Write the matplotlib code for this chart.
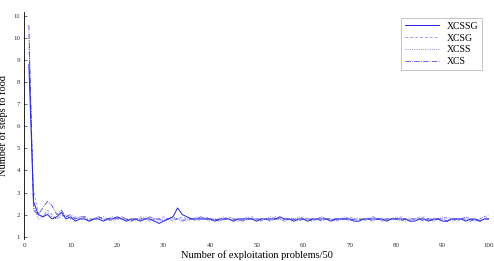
import matplotlib
matplotlib.use("Agg")
import matplotlib.pyplot as plt
import numpy as np

x_problems = list(range(1, 101))
xcssg = [8.8, 2.6, 2.0, 1.9, 2.0, 1.8, 1.9, 2.1, 1.8, 1.9,
         1.7, 1.8, 1.8, 1.7, 1.8, 1.8, 1.7, 1.8, 1.8, 1.9,
         1.8, 1.7, 1.8, 1.8, 1.7, 1.8, 1.8, 1.7, 1.6, 1.7,
         1.8, 1.9, 2.3, 2.0, 1.9, 1.8, 1.8, 1.8, 1.8, 1.8,
         1.7, 1.8, 1.8, 1.8, 1.7, 1.8, 1.8, 1.8, 1.8, 1.7,
         1.8, 1.8, 1.8, 1.8, 1.9, 1.8, 1.8, 1.7, 1.8, 1.8,
         1.7, 1.8, 1.8, 1.8, 1.8, 1.7, 1.8, 1.8, 1.8, 1.8,
         1.7, 1.7, 1.8, 1.8, 1.8, 1.8, 1.8, 1.7, 1.8, 1.8,
         1.8, 1.8, 1.7, 1.7, 1.8, 1.8, 1.7, 1.8, 1.8, 1.7,
         1.7, 1.8, 1.8, 1.8, 1.7, 1.8, 1.8, 1.7, 1.8, 1.8]
xcsg = [9.6, 3.1, 2.1, 1.9, 2.2, 2.0, 1.8, 1.9, 2.0, 1.8,
        1.9, 1.8, 1.9, 1.7, 1.8, 1.9, 1.8, 1.7, 1.8, 1.8,
        1.9, 1.8, 1.7, 1.8, 1.9, 1.8, 1.7, 1.8, 1.8, 1.9,
        1.8, 1.7, 1.8, 1.9, 1.8, 1.8, 1.7, 1.8, 1.9, 1.8,
        1.8, 1.7, 1.8, 1.9, 1.8, 1.7, 1.8, 1.8, 1.9, 1.8,
        1.7, 1.8, 1.8, 1.9, 1.8, 1.7, 1.8, 1.8, 1.8, 1.9,
        1.8, 1.7, 1.8, 1.9, 1.8, 1.8, 1.7, 1.8, 1.8, 1.9,
        1.8, 1.8, 1.7, 1.8, 1.9, 1.8, 1.7, 1.8, 1.8, 1.8,
        1.9, 1.8, 1.7, 1.8, 1.8, 1.9, 1.8, 1.7, 1.8, 1.8,
        1.9, 1.8, 1.7, 1.8, 1.9, 1.8, 1.7, 1.8, 1.9, 2.0]
xcss = [10.2, 2.4, 1.8, 1.9, 2.1, 1.9, 1.8, 2.0, 1.9, 1.8,
        1.8, 1.9, 1.8, 1.7, 1.8, 1.8, 1.9, 1.8, 1.7, 1.8,
        1.9, 1.8, 1.8, 1.7, 1.8, 1.9, 1.8, 1.8, 1.7, 1.8,
        1.8, 1.9, 1.8, 1.8, 1.7, 1.8, 1.9, 1.8, 1.8, 1.7,
        1.8, 1.8, 1.9, 1.8, 1.7, 1.8, 1.8, 1.9, 1.8, 1.8,
        1.7, 1.8, 1.9, 1.8, 1.8, 1.7, 1.8, 1.8, 1.9, 1.8,
        1.8, 1.7, 1.8, 1.9, 1.8, 1.8, 1.7, 1.8, 1.9, 1.8,
        1.8, 1.7, 1.8, 1.8, 1.9, 1.8, 1.7, 1.8, 1.8, 1.9,
        1.8, 1.7, 1.8, 1.8, 1.9, 1.8, 1.8, 1.7, 1.8, 1.9,
        1.8, 1.7, 1.8, 1.8, 1.9, 1.8, 1.7, 1.8, 1.9, 1.8]
xcs = [10.6, 2.2, 2.0, 2.3, 2.6, 2.4, 2.0, 2.2, 1.9, 2.0,
       1.8, 1.9, 1.9, 1.8, 1.8, 1.9, 1.8, 1.8, 1.9, 1.8,
       1.8, 1.8, 1.7, 1.8, 1.8, 1.8, 1.9, 1.8, 1.8, 1.7,
       1.8, 1.8, 1.8, 1.7, 1.8, 1.8, 1.8, 1.9, 1.8, 1.8,
       1.8, 1.7, 1.8, 1.8, 1.8, 1.8, 1.7, 1.8, 1.8, 1.8,
       1.8, 1.8, 1.7, 1.8, 1.8, 1.8, 1.8, 1.8, 1.7, 1.8,
       1.8, 1.8, 1.8, 1.7, 1.8, 1.8, 1.8, 1.8, 1.8, 1.7,
       1.8, 1.8, 1.8, 1.8, 1.7, 1.8, 1.8, 1.8, 1.8, 1.8,
       1.7, 1.8, 1.8, 1.8, 1.8, 1.7, 1.8, 1.8, 1.8, 1.8,
       1.7, 1.8, 1.8, 1.8, 1.8, 1.7, 1.8, 1.7, 1.8, 1.8]
series_names = ["XCSSG", "XCSG", "XCSS", "XCS"]
x_ticks = list(range(0, 101, 10))
y_ticks = list(range(1, 12))

plt.rcParams['font.family'] = ['Liberation Serif', 'DejaVu Serif']
fig = plt.figure(figsize=(4.94, 2.61), dpi=100)
ax = fig.add_axes([0.049, 0.085, 0.941, 0.87])

blue = "#2222dd"
ax.plot(x_problems, xcssg, color=blue, lw=0.7, ls='-', label=series_names[0])
ax.plot(x_problems, xcsg, color=blue, lw=0.5, ls=(0, (4, 3)), alpha=0.6, label=series_names[1])
ax.plot(x_problems, xcss, color=blue, lw=0.6, ls=':', alpha=0.7, label=series_names[2])
ax.plot(x_problems, xcs, color=blue, lw=0.6, ls='-.', alpha=0.8, label=series_names[3])

ax.set_xlim(0, 100)
ax.set_ylim(0.9, 11.2)
ax.set_xticks(x_ticks)
ax.set_yticks(y_ticks)
ax.tick_params(labelsize=5, length=2, width=0.5, direction='in', colors='#333333', pad=3)
for s in ['top', 'right', 'bottom']:
    ax.spines[s].set_visible(False)
ax.spines['left'].set_linewidth(0.6)
ax.tick_params(axis='x', length=0)
ax.set_xlabel("Number of exploitation problems/50", fontsize=7.5, labelpad=2)
ax.set_ylabel("Number of steps to food", fontsize=7.5)
ax.yaxis.set_label_coords(-0.034, 0.5)

leg = ax.legend(loc='upper right', fontsize=7, frameon=True, fancybox=False,
                edgecolor='#999999', handlelength=3.5, borderpad=0.4,
                labelspacing=0.3, bbox_to_anchor=(0.995, 0.995))
leg.get_frame().set_linewidth(0.5)

fig.savefig("out.png", dpi=100)
